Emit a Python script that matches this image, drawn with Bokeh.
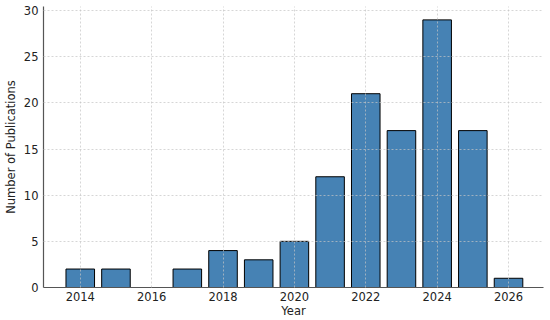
from bokeh.plotting import figure
from bokeh.models import ColumnDataSource, Range1d, FixedTicker
from bokeh.embed import file_html
from bokeh.resources import INLINE

years = [2014, 2015, 2016, 2017, 2018, 2019, 2020, 2021, 2022, 2023, 2024, 2025, 2026]
counts = [2, 2, 0, 2, 4, 3, 5, 12, 21, 17, 29, 17, 1]
x_ticks = [2014, 2016, 2018, 2020, 2022, 2024, 2026]
y_ticks = [0, 5, 10, 15, 20, 25, 30]

src = ColumnDataSource(data=dict(year=years, count=counts))

p = figure(width=550, height=320, output_backend="svg", toolbar_location=None,
           x_range=Range1d(2012.97, 2026.98), y_range=Range1d(0, 30.45),
           min_border_left=41, min_border_right=7, min_border_top=6, min_border_bottom=33)
p.outline_line_color = None
p.background_fill_color = "white"
p.border_fill_color = "white"

p.vbar(x="year", top="count", width=0.8, source=src, fill_color="#4682B4",
       line_color="black", line_width=1)

for ax in (p.xaxis[0], p.yaxis[0]):
    ax.axis_line_color = "#555555"
    ax.axis_line_width = 1.2
    ax.major_tick_line_color = None
    ax.minor_tick_line_color = None
    ax.major_tick_out = 0
    ax.major_tick_in = 0
    ax.major_label_text_font = "DejaVu Sans"
    ax.major_label_text_font_size = "11.5px"
    ax.major_label_text_color = "#222222"
    ax.axis_label_text_font = "DejaVu Sans"
    ax.axis_label_text_font_size = "11.5px"
    ax.axis_label_text_font_style = "normal"
    ax.axis_label_text_color = "#222222"

p.xaxis.ticker = FixedTicker(ticks=x_ticks)
p.yaxis.ticker = FixedTicker(ticks=y_ticks)
p.xaxis.axis_label = "Year"
p.yaxis.axis_label = "Number of Publications"
p.xaxis.axis_label_standoff = 0
p.yaxis.axis_label_standoff = 3
p.xaxis.major_label_standoff = 4
p.yaxis.major_label_standoff = 5

p.grid.grid_line_color = "#c4c4c4"
p.grid.grid_line_dash = "2 2"
p.grid.grid_line_alpha = 0.7
p.grid.level = "overlay"

open("out.html", "w").write(file_html(p, INLINE))
